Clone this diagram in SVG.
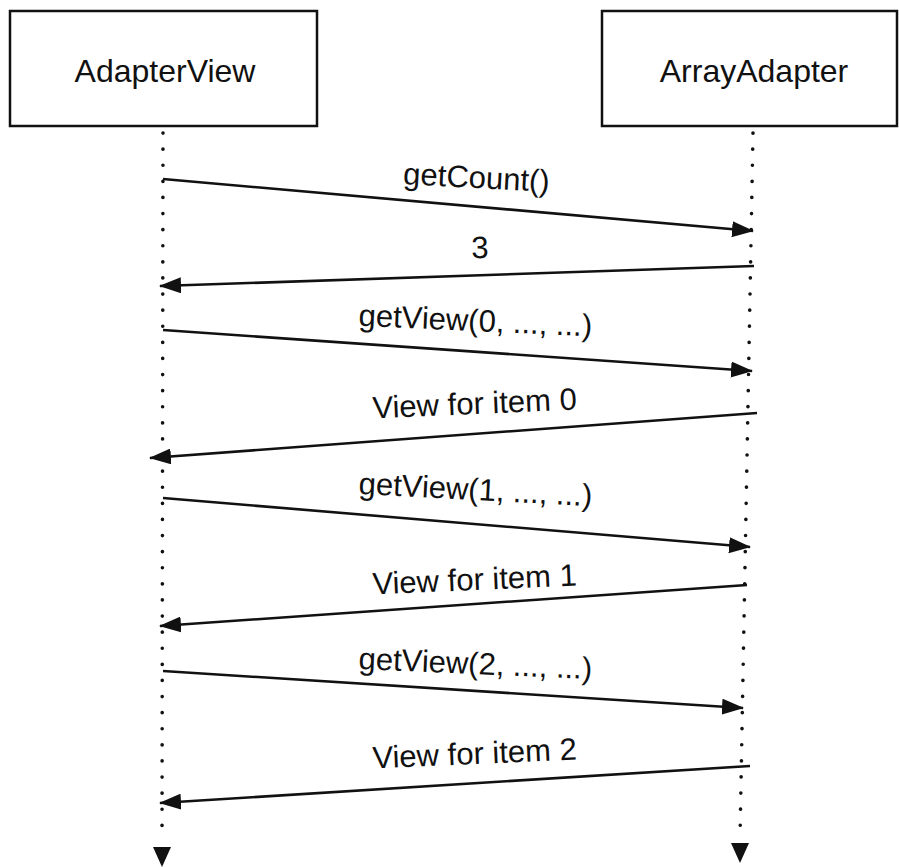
<svg xmlns="http://www.w3.org/2000/svg" width="899" height="867" viewBox="0 0 899 867">
<style>
.box{fill:#fff;stroke:#111;stroke-width:2.5}
.nt{font-family:"Liberation Sans",Arial,sans-serif;font-size:32px;fill:#111;text-anchor:middle}
.lt{font-family:"Liberation Sans",Arial,sans-serif;font-size:31px;fill:#111;text-anchor:middle}
.life{stroke:#111;stroke-width:3.6;stroke-dasharray:0.1 16;stroke-linecap:round;fill:none}
.msg{stroke:#111;stroke-width:2.6;fill:none;marker-end:url(#ah)}
</style>
<defs>
<marker id="ah" markerUnits="userSpaceOnUse" viewBox="0 0 22 16" refX="21" refY="8" markerWidth="22" markerHeight="16" orient="auto">
<path d="M0,0 L22,8 L0,16 Z" fill="#111"/>
</marker>
<marker id="dh" markerUnits="userSpaceOnUse" viewBox="0 0 20 18" refX="19" refY="9" markerWidth="20" markerHeight="18" orient="auto">
<path d="M0,0 L20,9 L0,18 Z" fill="#111"/>
</marker>
</defs>
<rect width="899" height="867" fill="#fff"/>
<g id="adapterview">
<rect class="box" x="10" y="11" width="307" height="115"/>
<text class="nt" x="165" y="82">AdapterView</text>
</g>
<g id="arrayadapter">
<rect class="box" x="602" y="11" width="295" height="115"/>
<text class="nt" x="754" y="82">ArrayAdapter</text>
</g>
<g id="connectors">
<line class="life" x1="163" y1="133" x2="162" y2="840"/>
<line x1="162" y1="840" x2="162" y2="866" stroke="none" marker-end="url(#dh)"/>
<line class="life" x1="753" y1="133" x2="740" y2="838"/>
<line x1="740" y1="838" x2="740" y2="862" stroke="none" marker-end="url(#dh)"/>
<line class="msg" x1="163" y1="179" x2="753" y2="231"/>
<line class="msg" x1="754" y1="266" x2="160" y2="286"/>
<line class="msg" x1="163" y1="330" x2="752" y2="371"/>
<line class="msg" x1="757" y1="413" x2="150" y2="458"/>
<line class="msg" x1="163" y1="498" x2="750" y2="547"/>
<line class="msg" x1="747" y1="585" x2="160" y2="626"/>
<line class="msg" x1="163" y1="671" x2="743" y2="708"/>
<line class="msg" x1="750" y1="766" x2="160" y2="803"/>
</g>
<g id="labels">
<text class="lt" transform="translate(476,188) rotate(3)">getCount()</text>
<text class="lt" transform="translate(480,258) rotate(-1)">3</text>
<text class="lt" transform="translate(475,331) rotate(2.6)">getView(0, ..., ...)</text>
<text class="lt" transform="translate(475,414) rotate(-2.5)">View for item 0</text>
<text class="lt" transform="translate(475,500) rotate(3)">getView(1, ..., ...)</text>
<text class="lt" transform="translate(475,590) rotate(-2.5)">View for item 1</text>
<text class="lt" transform="translate(475,674) rotate(2.5)">getView(2, ..., ...)</text>
<text class="lt" transform="translate(475,764) rotate(-2.5)">View for item 2</text>
</g>
</svg>
